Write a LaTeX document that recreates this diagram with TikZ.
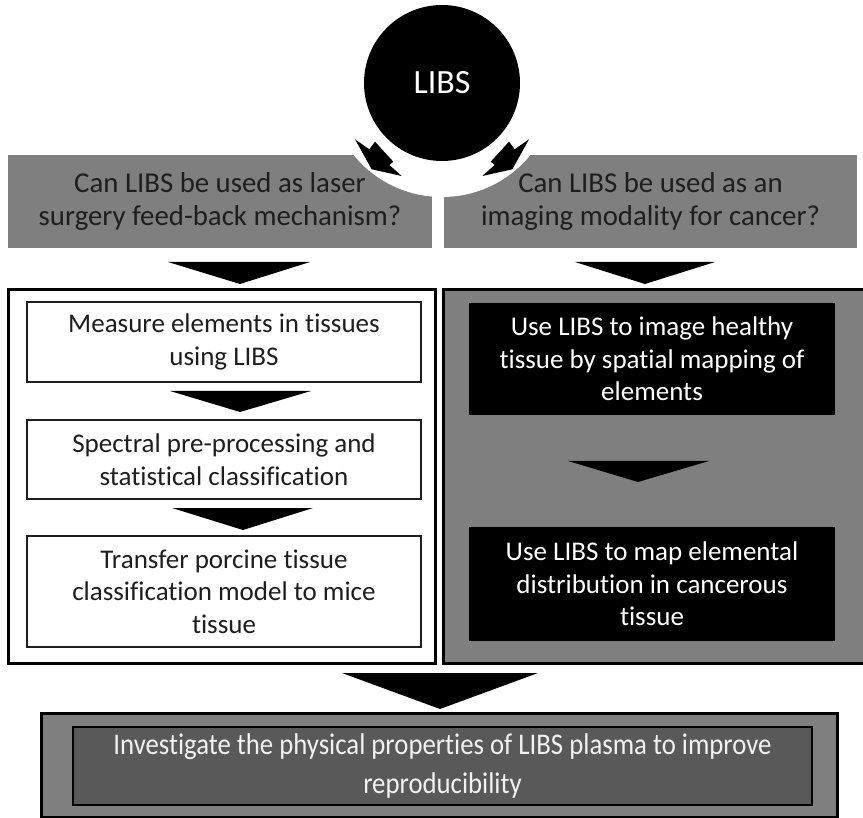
\documentclass[tikz,border=0pt]{standalone}
\usepackage{fontspec}
\setmainfont{Carlito}[Ligatures=NoCommon]
\usepackage{graphicx}
\definecolor{boxgray}{HTML}{7F7F7F}
\definecolor{darkgray}{HTML}{595959}
\definecolor{textdark}{HTML}{1E1E1E}
\definecolor{textlight}{HTML}{F2F2F2}
\begin{document}
\begin{tikzpicture}[x=1pt,y=-1pt,
  mainfont/.style={font=\fontsize{27}{32.5}\selectfont},
  qfont/.style={font=\fontsize{28.8}{33}\selectfont},
  qbox/.style={fill=boxgray, draw=none, text=textdark, align=center, inner sep=0pt, qfont},
  colframe/.style={line width=3pt, draw=black, inner sep=0pt},
  stepbox/.style={draw=textdark, line width=1.4pt, fill=white, text=textdark, align=center, inner sep=0pt, mainfont},
  blackbox/.style={fill=black, draw=none, text=white, align=center, inner sep=0pt, mainfont},
  chev/.style={fill=black, draw=none},
  bolt/.style={fill=black, draw=none}]
\useasboundingbox (0,0) rectangle (863,818);

% question boxes
\node[qbox, minimum width=424pt, minimum height=93pt] (q1) at (220,201.5) {Can LIBS be used as laser\\surgery feed-back mechanism?};
\node[qbox, minimum width=413pt, minimum height=93pt] (q2) at (650.5,201.5) {Can LIBS be used as an\\imaging modality for cancer?};

% white cut-out disk and LIBS circle
\fill[white] (442,83) circle[radius=114pt];
\node[fill=black, circle, minimum size=156pt, inner sep=0pt, text=white, font=\fontsize{34}{40}\selectfont] (libs) at (442,83) {LIBS};

% diagonal arrows from the circle
\fill[bolt] (355,139.3) -- (369.3,149.3) -- (375,141.7) -- (393.3,161.7) -- (389.3,165) -- (401.7,176) -- (371.7,169.3) -- cycle;
\fill[bolt] (529,139.3) -- (514.7,149.3) -- (509,141.7) -- (490.7,161.7) -- (494.7,165) -- (482.3,176) -- (512.3,169.3) -- cycle;

% chevrons under the questions
\fill[chev] (168,262) -- (310,262) -- (240,284) -- cycle;
\fill[chev] (575,262) -- (715,262) -- (645,284) -- cycle;

% left column
\node[colframe, fill=white, minimum width=427pt, minimum height=373pt] (leftcol) at (221.5,476.5) {};
\node[stepbox, minimum width=394pt, minimum height=80pt] (s1) at (224,342) {Measure elements in tissues\\using LIBS};
\node[stepbox, minimum width=394pt, minimum height=79pt] (s2) at (224,459.5) {Spectral pre-processing and\\statistical classification};
\node[stepbox, minimum width=394pt, minimum height=111pt] (s3) at (224,591.5) {Transfer porcine tissue\\classification model to mice\\tissue};
\fill[chev] (170,391) -- (311,391) -- (240,412) -- cycle;
\fill[chev] (172,508) -- (313,508) -- (243,530) -- cycle;

% right column
\node[colframe, fill=boxgray, minimum width=421pt, minimum height=373pt] (rightcol) at (653.5,476.5) {};
\node[blackbox, minimum width=366pt, minimum height=112pt] (r1) at (652,359) {Use LIBS to image healthy\\tissue by spatial mapping of\\elements};
\node[blackbox, minimum width=366pt, minimum height=114pt] (r2) at (652,584) {Use LIBS to map elemental\\distribution in cancerous\\tissue};
\fill[chev] (568,461) -- (709,461) -- (638,482) -- cycle;

% bottom
\fill[chev] (342,673) -- (538,673) -- (440,709) -- cycle;
\node[colframe, fill=boxgray, minimum width=796pt, minimum height=104pt] (bottomframe) at (439,765) {};
\node[draw=black, line width=1.4pt, fill=darkgray, minimum width=739pt, minimum height=78pt, inner sep=0pt, text=textlight] (plasma) at (442.5,766)
  {\fontsize{30}{38}\selectfont\scalebox{0.892}[1]{\begin{tabular}{@{}c@{}}Investigate the physical properties of LIBS plasma to improve\\[1pt]reproducibility\end{tabular}}};
\end{tikzpicture}
\end{document}
